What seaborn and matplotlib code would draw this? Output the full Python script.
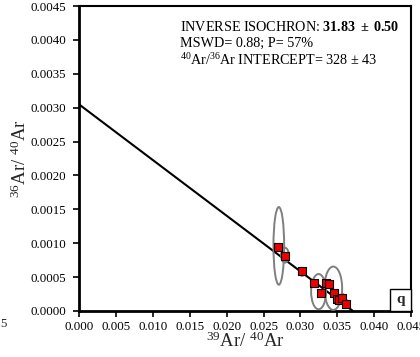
import matplotlib
matplotlib.use("Agg")
import matplotlib.pyplot as plt
from matplotlib.patches import Ellipse, Rectangle
import seaborn as sns
import pandas as pd

# ---- data ----
x39_40 = [0.02693, 0.02796, 0.03027, 0.03185, 0.03275, 0.03343, 0.03393,
          0.03456, 0.03501, 0.03520, 0.03565, 0.03623]
y36_40 = [0.000944, 0.000816, 0.000590, 0.000413, 0.000270, 0.000413, 0.000398,
          0.000270, 0.000181, 0.000162, 0.000192, 0.000108]

# error ellipses (centre, full width, full height) in data units
ell_x = [0.02707, 0.02790, 0.03022, 0.03246, 0.03445, 0.03570, 0.03620]
ell_y = [0.000960, 0.000823, 0.000578, 0.000285, 0.000335, 0.000190, 0.000110]
ell_w = [0.00145, 0.00104, 0.00080, 0.00203, 0.00240, 0.00070, 0.00070]
ell_h = [0.001146, 0.000220, 0.000120, 0.000520, 0.000640, 0.000120, 0.000100]

# isochron line end points
line_x = [0.0, 0.0371]
line_y = [0.00305, 0.0]

xticks = [0.000, 0.005, 0.010, 0.015, 0.020, 0.025, 0.030, 0.035, 0.040, 0.045]
yticks = [0.0000, 0.0005, 0.0010, 0.0015, 0.0020, 0.0025, 0.0030, 0.0035, 0.0040, 0.0045]

stats_lines = [
    r"INVERSE ISOCHRON: $\mathbf{31.83\ \pm\ 0.50}$",
    "MSWD= 0.88; P= 57%",
    r"$^{40}$Ar/$^{36}$Ar INTERCEPT= 328 ± 43",
]
xlabel = r"$^{39}$Ar/ $^{40}$Ar"
ylabel = r"$^{36}$Ar/ $^{40}$Ar"
panel_label = "q"

# ---- style ----
sns.set_style("ticks")
plt.rcParams["font.family"] = ["Liberation Serif", "DejaVu Serif"]
plt.rcParams["mathtext.fontset"] = "custom"
plt.rcParams["mathtext.rm"] = "Liberation Serif"
plt.rcParams["mathtext.it"] = "Liberation Serif:italic"
plt.rcParams["mathtext.bf"] = "Liberation Serif:bold"

fig, ax = plt.subplots(figsize=(4.2, 3.57), dpi=100)
fig.subplots_adjust(left=0.188, right=0.979, bottom=0.129, top=0.983)

df_pts = pd.DataFrame({"x": x39_40, "y": y36_40})
df_line = pd.DataFrame({"x": line_x, "y": line_y})

sns.lineplot(data=df_line, x="x", y="y", color="black", lw=1.5, ax=ax, zorder=2)

for cx, cy, w, h in zip(ell_x, ell_y, ell_w, ell_h):
    ax.add_patch(Ellipse((cx, cy), w, h, fill=False, edgecolor="#7f7f7f",
                         lw=1.4, zorder=3))

sns.scatterplot(data=df_pts, x="x", y="y", marker="s", s=30, color="#ee0000",
                edgecolor="black", linewidth=0.8, ax=ax, zorder=4)

ax.set_xlim(0, 0.045)
ax.set_ylim(0, 0.0045)
ax.set_xticks(xticks)
ax.set_yticks(yticks)
ax.set_xticklabels([f"{v:.3f}" for v in xticks])
ax.set_yticklabels([f"{v:.4f}" for v in yticks])
ax.tick_params(axis="both", direction="out", length=4, width=1.2,
               labelsize=9.3, colors="black")
ax.tick_params(axis="x", pad=3.5)
ax.tick_params(axis="y", pad=5.5)

for side in ["left", "bottom"]:
    ax.spines[side].set_linewidth(2.0)
for side in ["top", "right"]:
    ax.spines[side].set_linewidth(1.5)
for sp in ax.spines.values():
    sp.set_color("black")
    sp.set_visible(True)

ax.set_xlabel(xlabel, fontsize=13.5, labelpad=-1)
ax.set_ylabel(ylabel, fontsize=13.5, labelpad=0)

ys = [0.931, 0.877, 0.822]
for txt, yy in zip(stats_lines, ys):
    ax.text(0.304, yy, txt, transform=ax.transAxes, fontsize=10.2,
            ha="left", va="center", color="black")

ax.add_patch(Rectangle((0.937, 0.0), 0.063, 0.072, transform=ax.transAxes,
                       fill=True, facecolor="white", edgecolor="black",
                       lw=1.0, zorder=5, clip_on=False))
ax.text(0.9685, 0.036, panel_label, transform=ax.transAxes, fontsize=11,
        fontweight="bold", ha="center", va="center", zorder=6)

# fragment of the neighbouring panel's tick label at the left edge
fig.text(0.0, 1 - 324 / 357, "5", fontsize=9.3, ha="left", va="center")

fig.savefig("out.png", dpi=100)
